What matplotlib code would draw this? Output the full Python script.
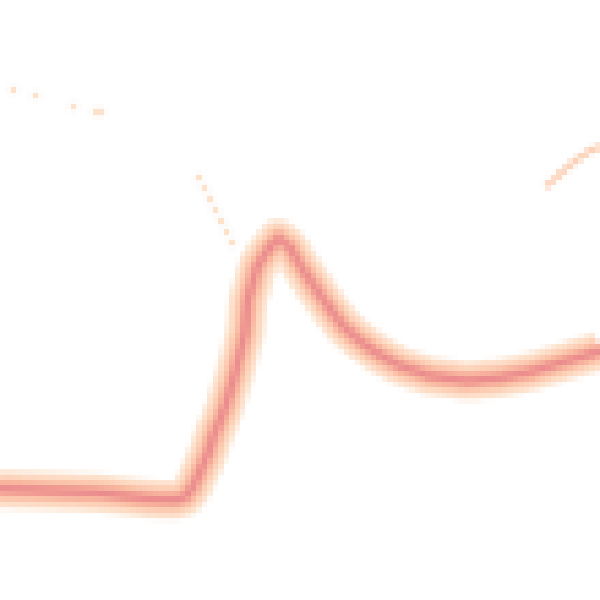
import matplotlib
matplotlib.use("Agg")
import matplotlib.pyplot as plt
import numpy as np

# Main dense trajectory (x, y in picture units, y measured downward)
main_x = [0, 50, 100, 150, 175, 185, 193, 202, 208, 213, 220, 225, 230, 235, 240,
          245, 248, 257, 268, 278, 290, 300, 317, 330, 343, 360, 380, 400, 430,
          467, 500, 530, 550, 570, 593, 600]
main_y = [489, 491, 493, 499, 500, 497, 487, 467, 453, 437, 420, 407, 390, 373, 353,
          333, 300, 267, 250, 238, 248, 265, 290, 309, 326, 341, 355, 366, 376,
          381, 378, 372, 366, 360, 353, 350]

# Secondary trace just inside the peak (broadens the band there)
inner_x = [252, 262, 275, 288, 298, 310]
inner_y = [300, 262, 248, 255, 270, 290]

# Sparse outlier cells
sparse1_x = [12, 35, 72, 91, 96]
sparse1_y = [88, 94, 104, 110, 110]
sparse2_x = [197, 202, 207, 213, 218, 222, 229]
sparse2_y = [175, 186, 196, 207, 218, 228, 240]
sparse3_x = [548, 555, 562, 569, 576, 584, 591, 599]
sparse3_y = [185, 179, 172, 166, 160, 155, 150, 147]

NBINS = 110
scale = 600.0 / NBINS

small = plt.figure(figsize=(NBINS / 100, NBINS / 100), dpi=100)
sax = small.add_axes([0, 0, 1, 1])
sax.set_xlim(0, 600)
sax.set_ylim(600, 0)
sax.axis("off")
layers = [
    ("#fde6d3", 28),
    ("#fdd5bc", 21),
    ("#fabca3", 14),
    ("#f4a496", 8),
    ("#ea8a8d", 3.5),
]
for color, lw in layers[:3]:
    sax.plot(inner_x, inner_y, color=color, lw=lw * 0.7 / scale,
             solid_capstyle="round", solid_joinstyle="round")
for color, lw in layers:
    sax.plot(main_x, main_y, color=color, lw=lw / scale, solid_capstyle="butt",
             solid_joinstyle="round")
sax.plot(sparse1_x, sparse1_y, ls="none", marker="s", ms=4.5 / scale,
         color="#fde2cc", mec="none")
sax.plot(sparse2_x, sparse2_y, ls="none", marker="s", ms=4.5 / scale,
         color="#fde2cc", mec="none")
sax.plot(sparse3_x, sparse3_y, color="#fdd0b5", lw=4.5 / scale)
small.canvas.draw()
grid = np.asarray(small.canvas.buffer_rgba()).copy()
plt.close(small)

fig = plt.figure(figsize=(6, 6), dpi=100)
ax = fig.add_axes([0, 0, 1, 1])
ax.set_xlim(0, 600)
ax.set_ylim(600, 0)
ax.axis("off")
ax.imshow(grid, extent=(0, 600, 600, 0), interpolation="nearest", aspect="auto")

fig.savefig("out.png", dpi=100, facecolor="white")
